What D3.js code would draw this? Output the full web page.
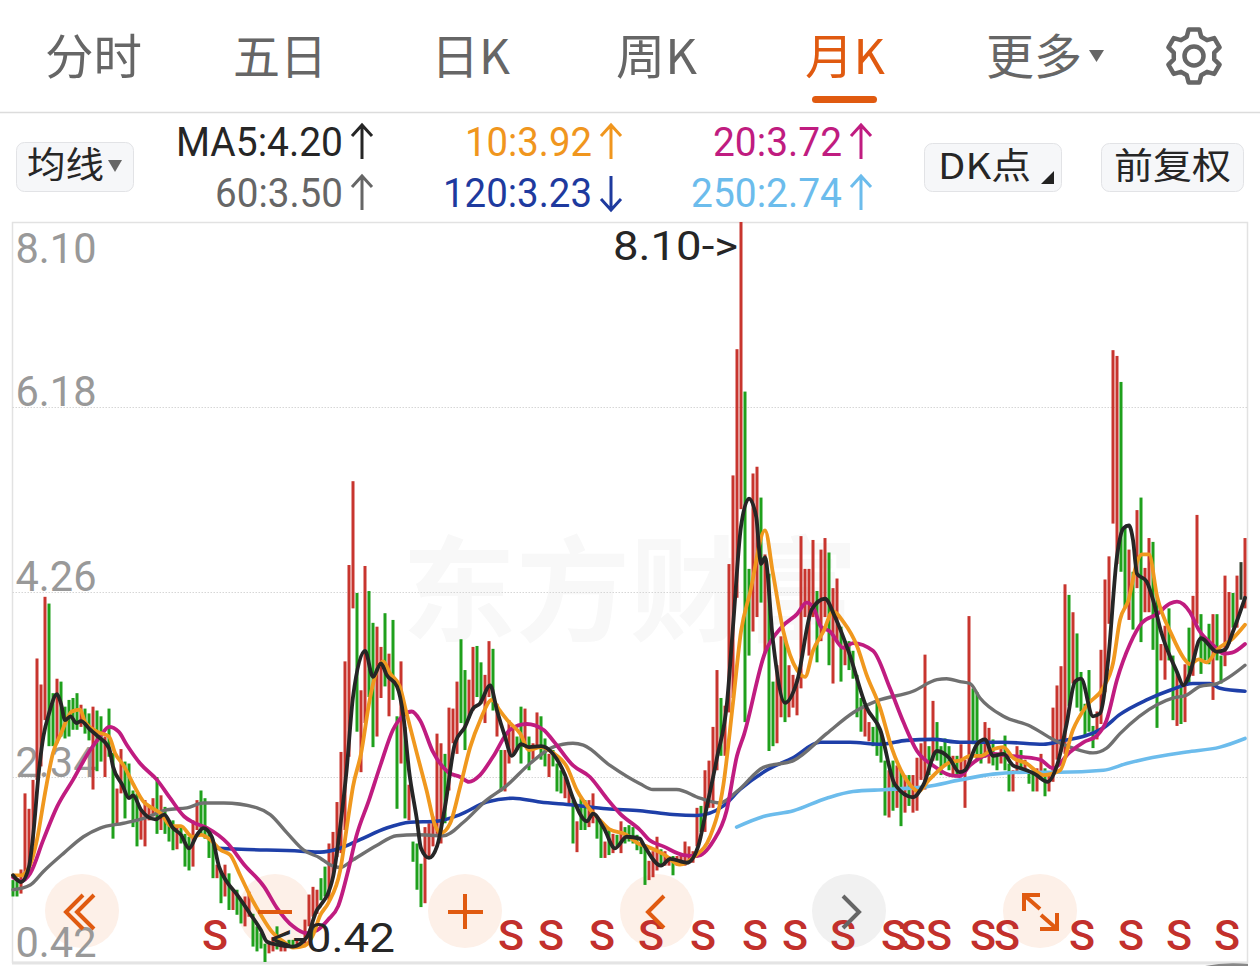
<!DOCTYPE html>
<html><head><meta charset="utf-8"><style>html,body{margin:0;padding:0;background:#fff;overflow:hidden}svg{display:block}</style>
<script src="https://d3js.org/d3.v7.min.js"></script></head><body><div id="c"></div><script>
const tabs=["分时","五日","日K","周K","月K","更多"];
const yTicks=[8.10,6.18,4.26,2.34,0.42];
const highs=[1.27,1.29,1.38,2.17,2.01,2.31,3.57,3.30,4.21,4.14,
3.21,3.36,3.33,3.07,3.14,3.16,3.21,3.09,3.05,3.00,
3.07,3.03,2.97,2.76,3.05,2.59,2.22,2.63,2.50,2.48,
2.20,2.17,2.00,2.10,2.03,2.12,2.34,2.15,2.03,1.89,
1.89,1.82,1.84,1.75,1.72,1.89,2.10,2.20,2.12,1.79,
1.69,1.43,1.36,1.43,1.34,1.17,1.17,1.06,1.10,1.15,
.92,.79,.72,.61,.61,.68,.79,.61,.63,.65,
.65,.65,.66,.86,1.12,1.20,1.17,1.29,1.41,1.65,
1.77,2.08,2.60,3.54,4.54,5.41,4.25,3.24,4.53,4.27,
3.94,3.90,3.69,4.04,3.62,3.97,2.97,3.54,2.86,2.26,
1.67,1.65,1.44,1.82,1.86,1.93,2.79,2.69,2.58,3.06,
3.05,3.33,3.77,3.45,3.35,3.69,3.70,3.53,3.40,3.75,
3.67,3.10,2.62,2.62,2.93,2.86,2.76,3.07,3.05,2.76,
2.69,3.01,2.97,2.74,2.58,2.62,2.48,2.41,2.34,2.24,
2.10,1.88,2.12,2.10,2.10,2.17,1.93,1.86,1.67,1.79,
1.75,1.74,1.88,1.82,1.84,1.82,1.74,1.64,1.62,1.47,
1.57,1.72,1.59,1.57,1.52,1.52,1.52,1.52,1.67,1.62,
1.57,2.02,2.04,2.41,2.51,2.86,3.45,3.16,3.08,4.55,
5.47,6.78,8.10,6.34,4.50,5.49,5.56,5.24,4.65,4.45,
3.33,3.50,3.80,3.78,3.50,3.40,3.36,4.84,4.50,4.50,
4.80,4.27,4.70,4.82,4.67,4.30,4.40,3.90,3.75,3.75,
3.65,3.40,3.16,3.06,2.91,2.86,3.11,2.81,2.51,2.41,
2.51,2.46,2.41,2.36,2.36,2.36,2.54,2.69,3.61,2.66,
3.13,2.91,2.66,2.74,2.66,2.56,2.56,2.68,2.52,4.01,
3.26,3.22,2.73,2.91,2.85,2.73,2.56,2.66,2.77,2.48,
2.41,2.66,2.62,2.52,2.41,2.41,2.43,2.58,2.43,2.37,
3.06,3.29,3.49,4.34,4.23,4.05,3.83,3.43,3.10,3.45,
2.87,3.02,3.66,4.39,4.63,6.77,6.71,6.44,4.93,4.70,
4.47,5.11,5.24,4.51,4.82,4.78,4.22,3.72,3.91,4.09,
3.60,3.43,3.31,3.51,3.89,4.22,5.06,4.03,3.76,3.93,
4.03,4.03,3.60,4.43,4.26,4.25,4.43,4.57,4.82];
const lows=[1.10,1.10,1.13,1.27,1.34,1.65,2.31,2.45,2.93,2.66,
2.66,2.69,2.76,2.74,2.76,2.83,2.83,2.86,2.79,2.72,
2.21,2.40,2.50,2.34,2.55,1.70,1.86,2.17,1.91,2.14,
1.82,1.62,1.69,1.62,1.89,1.93,1.75,1.79,1.75,1.67,
1.58,1.59,1.65,1.41,1.37,1.41,1.79,1.75,1.70,1.50,
1.29,1.29,1.03,1.10,.96,.96,.91,.82,.79,.89,
.58,.53,.56,.42,.51,.53,.55,.53,.53,.58,
.58,.58,.58,.61,.79,.89,.92,1.06,1.10,1.06,
1.30,1.51,1.55,1.79,2.55,4.09,2.81,2.39,2.90,3.17,
2.65,2.76,3.16,3.28,2.97,3.14,2.01,2.48,1.91,1.89,
1.46,1.17,.99,1.03,1.51,1.62,1.75,1.65,1.86,2.20,
2.69,2.58,2.90,2.62,2.95,3.03,3.17,3.10,2.90,3.17,
3.03,2.76,2.19,2.19,2.48,2.58,2.62,2.48,2.65,2.41,
2.52,2.65,2.52,2.45,2.34,2.45,2.19,2.17,2.12,2.07,
1.65,1.56,1.79,1.79,1.82,1.86,1.70,1.50,1.50,1.53,
1.55,1.62,1.55,1.65,1.67,1.65,1.58,1.54,1.22,1.27,
1.30,1.37,1.42,1.42,1.42,1.32,1.42,1.42,1.42,1.45,
1.45,1.62,1.77,1.77,2.02,2.02,2.41,2.56,2.56,3.01,
3.16,4.20,5.12,2.91,3.60,3.85,4.00,4.15,3.63,2.61,
2.66,2.69,2.96,2.91,2.96,3.06,2.98,3.26,4.00,3.60,
4.00,3.53,3.75,4.00,3.50,3.31,3.75,3.33,3.50,3.45,
3.36,2.96,2.81,2.76,2.71,2.66,2.56,2.49,1.94,1.92,
1.99,2.02,1.83,1.97,2.04,1.97,1.99,2.31,2.21,2.36,
2.51,2.51,2.36,2.46,2.41,2.34,2.34,2.35,2.02,2.48,
2.68,2.52,2.48,2.54,2.48,2.46,2.41,2.48,2.41,2.19,
2.19,2.39,2.41,2.39,2.27,2.19,2.19,2.31,2.14,2.19,
2.29,2.52,2.60,2.58,3.08,3.31,3.06,3.02,2.77,2.81,
2.64,2.73,2.89,3.22,3.93,4.97,4.55,4.47,4.09,3.97,
3.87,4.30,3.74,4.05,4.05,3.66,2.85,3.55,3.35,3.55,
2.93,2.87,2.89,2.91,3.31,3.39,3.93,3.41,3.55,3.51,
3.14,3.55,3.31,3.49,3.72,3.89,3.89,4.18,4.09];
const directions=("ggrrrrrrrg"+"grgggggrgg"+"rggrggrrgg"+"ggrrrrgrgg"+"grgggrrggg"+"grgrgrggrr"+"ggggrrgrrg"+"grgrrrrggr"+"rrrrrrgrrg"+"grrgrggrgr"+"gggrrrrrgr"+"rrggrrggrr"+"grgrrrggrg"+"rrggrgggrr"+"grggrrggrg"+"rgrggggggr"+"rrgrrgrrrr"+"rrgrrrrgrr"+"rrrggrrgrg"+"grrgrrrrrr"+"rgrrgrrgrg"+"gggrrggggr"+"grgrgrrrrg"+"rggggrgrrr"+"gggrrggrgg"+"rrgrggrrgr"+"rrrrgrgggg"+"grrrrrrggr"+"grgrrggrrg"+"grgrgrrggg"+"rggrrgrkr").split("");
const ma5=[[0,1.32],[2,1.25],[4,1.41],[5,1.72],[6.5,2.41],[7.6,2.76],[9,3.00],[11,3.20],[12,3.10],[13,2.93],[14.4,2.97],[15.8,2.90],[17,2.92],[19.3,2.83],[21.3,2.76],[24,2.64],[25,2.45],[27.3,2.26],[29,2.12],[30,2.15],[32,2.00],[33.6,1.93],[35.6,1.90],[37.8,1.95],[40,1.81],[42,1.74],[44,1.60],[46,1.74],[47.6,1.81],[49.7,1.72],[51.5,1.41],[53.5,1.25],[56,1.12],[59.3,.92],[62,.75],[63.5,.63],[66,.60],[70,.58],[73.5,.68],[76,.96],[76.75,1.0],[80,1.30],[82,1.89],[83.4,2.41],[85,3.17],[88,3.65],[90,3.38],[92,3.52],[93.4,3.40],[96,3.28],[97.6,2.97],[99,2.41],[101,1.89],[102,1.60],[104,1.50],[106,1.62],[108,2.03],[110.5,2.69],[113,2.86],[115,3.05],[116.7,3.10],[119.3,3.29],[121,3.03],[123,2.76],[124.7,2.56],[127,2.68],[129,2.65],[132,2.66],[135,2.58],[138,2.36],[140,2.12],[143.5,1.88],[145,1.96],[147.7,1.81],[150.5,1.60],[153.4,1.72],[156.7,1.70],[157.6,1.64],[162,1.42],[164.3,1.49],[168.5,1.45],[171.3,1.62],[173.4,2.02],[176,2.54],[178.5,3.11],[180,3.90],[182,4.94],[184,5.23],[185.8,5.04],[187,4.55],[188,4.62],[190,3.75],[193,3.11],[196,3.33],[199.7,4.08],[203,4.19],[205.5,4.00],[209,3.63],[213.4,3.06],[216.8,2.83],[220.5,2.26],[225,2.13],[227.6,2.26],[231,2.61],[234,2.54],[236.6,2.39],[238,2.41],[241,2.68],[243,2.73],[245,2.56],[247.6,2.58],[250,2.46],[252,2.43],[255.5,2.37],[258.6,2.29],[261,2.46],[263.4,2.89],[265.5,3.33],[267,3.36],[270,2.97],[271.75,3.00],[273.8,3.56],[276,4.63],[277.6,4.92],[279,4.95],[280,4.80],[281,4.45],[283.4,4.37],[285,4.18],[287,3.85],[291,3.43],[292.6,3.29],[294,3.39],[297,3.78],[301,3.64],[303,3.66],[305,3.85],[308,4.20]];
const ma10=[[0,1.32],[2,1.32],[4.3,1.43],[6,1.69],[8,2.17],[10,2.59],[12,2.79],[14.7,3.02],[16.8,3.04],[18,2.91],[21,2.81],[24,2.76],[25.5,2.59],[27.8,2.45],[30,2.27],[32.7,2.08],[34.3,2.03],[37,1.96],[39.5,1.83],[42,1.83],[44.8,1.72],[47,1.74],[49.3,1.69],[52,1.58],[54.3,1.53],[56.8,1.32],[59,1.13],[61.8,.92],[65,.72],[67.7,.63],[70,.57],[73,.59],[75,.70],[76.75,.90],[78.8,1.03],[81.8,1.37],[83.7,1.89],[85,2.24],[87,2.58],[89.3,3.17],[91.3,3.48],[92.6,3.54],[94.2,3.42],[96.7,3.28],[98.4,3.0],[101,2.58],[103.4,2.20],[105.5,1.84],[107,1.76],[109.3,1.86],[111.8,2.24],[114.3,2.65],[116.8,2.93],[119.7,3.14],[121.7,3.03],[124,2.91],[126.8,2.79],[129,2.62],[132,2.65],[135,2.59],[138.4,2.45],[141,2.20],[144.3,2.0],[146.8,1.89],[149,1.80],[153.4,1.74],[156.3,1.65],[158.4,1.62],[162.6,1.54],[166.75,1.43],[170.5,1.52],[174.25,1.72],[177.6,2.26],[180,3.11],[182,3.85],[184.25,4.25],[188,4.90],[190,4.45],[192.6,3.85],[196,3.45],[198,3.38],[200,3.65],[202.6,3.85],[205,4.06],[207.6,3.95],[211,3.70],[213.4,3.40],[216.75,3.06],[219.7,2.64],[224.25,2.26],[226.3,2.19],[229,2.31],[234.7,2.50],[236.75,2.51],[239.25,2.56],[242,2.56],[244.6,2.62],[247.6,2.65],[250,2.54],[253.4,2.48],[257.6,2.36],[261.75,2.41],[265,2.83],[268.4,3.08],[272.6,3.27],[275,3.52],[276.75,3.97],[278.9,4.18],[281,4.57],[282.25,4.65],[284,4.65],[286,4.22],[289.75,3.81],[292.6,3.58],[294.25,3.51],[296.4,3.56],[298.4,3.53],[301,3.66],[305,3.78],[308,3.92]];
const ma20=[[0,1.30],[2,1.26],[4.3,1.34],[7.6,1.69],[11,2.03],[15,2.31],[19.3,2.62],[21.8,2.76],[24,2.86],[26.4,2.81],[28.5,2.67],[31.8,2.48],[36,2.31],[39.3,2.12],[42.8,1.93],[45,1.87],[48.6,1.81],[53.7,1.65],[57.8,1.43],[62.8,1.20],[66,.98],[70,.79],[73.2,.72],[76,.75],[78.8,.86],[81.3,1.0],[83.8,1.37],[85.8,1.72],[89,2.10],[92,2.48],[95,2.83],[97.6,2.98],[99.7,3.02],[101.75,2.93],[105,2.60],[108.8,2.39],[111.8,2.34],[114,2.29],[116.75,2.36],[120,2.55],[124.25,2.83],[128.4,2.89],[132.6,2.83],[135,2.72],[140,2.46],[144.25,2.34],[148.4,2.12],[151.75,1.96],[156.75,1.79],[159.25,1.68],[162.6,1.62],[167.6,1.53],[171,1.52],[175,1.67],[178.4,1.99],[181,2.56],[182.75,2.78],[188,3.63],[192.25,3.90],[196,4.03],[198.4,4.15],[200.1,4.10],[202,3.90],[204.25,3.85],[207.6,3.68],[210,3.73],[215,3.65],[219.25,3.26],[222.6,2.91],[226,2.61],[230,2.46],[234.25,2.36],[236.75,2.35],[239.25,2.46],[245,2.58],[249.25,2.56],[256.75,2.52],[260,2.43],[264.25,2.60],[267.6,2.70],[271,2.77],[273.4,2.93],[276,3.35],[279.25,3.72],[282.25,3.94],[286,4.03],[289.25,4.14],[291,4.16],[294.25,4.05],[296.4,3.87],[300.25,3.70],[302.75,3.62],[304.75,3.63],[308,3.72]];
const ma60=[[0,1.17],[4.3,1.22],[7.6,1.36],[12.7,1.55],[17.6,1.72],[21.8,1.81],[27.6,1.86],[32.7,1.91],[38.5,2.0],[43.5,2.02],[47.6,2.07],[52.7,2.07],[61,2.02],[64.3,1.95],[68.5,1.76],[72.7,1.58],[76.75,1.50],[79.25,1.43],[81.75,1.40],[85,1.48],[90.9,1.63],[95.9,1.73],[100.9,1.74],[107.6,1.73],[112.6,1.87],[118.4,2.10],[123.4,2.25],[129.25,2.48],[135,2.65],[140,2.69],[142.6,2.67],[149.25,2.46],[156.75,2.27],[160,2.21],[165.9,2.21],[171.75,2.12],[176.75,2.07],[181,2.19],[187.6,2.44],[195.1,2.51],[203.4,2.79],[210.1,3.01],[216,3.13],[225,3.23],[231,3.35],[233.4,3.36],[236.75,3.33],[239.25,3.31],[241.75,3.16],[247.6,2.97],[254.25,2.87],[260,2.73],[265,2.64],[270,2.59],[273.4,2.64],[276.75,2.79],[286,3.09],[290.1,3.16],[293.4,3.19],[296.75,3.28],[301,3.31],[308,3.50]];
const ma120=[[51,1.60],[57,1.59],[72,1.57],[76.75,1.56],[81.75,1.60],[86.75,1.69],[93.4,1.81],[99.25,1.87],[105.9,1.88],[111.75,1.95],[118.4,2.08],[125,2.12],[131.75,2.08],[140,2.05],[148.4,2.01],[156.75,1.99],[165,1.95],[170.9,1.94],[177.6,2.04],[181.75,2.21],[188.4,2.41],[195,2.54],[201.75,2.70],[209.25,2.70],[216.75,2.68],[223.4,2.72],[230,2.73],[236.75,2.70],[247.6,2.70],[257.6,2.68],[261.75,2.71],[272.6,2.85],[276.75,2.99],[283.4,3.14],[289.25,3.24],[295,3.31],[299.25,3.31],[301.75,3.26],[308,3.23]];
const ma250=[[180.9,1.82],[187.6,1.93],[195.1,1.99],[203.4,2.12],[210,2.19],[218.4,2.21],[228.4,2.24],[236.75,2.31],[245,2.37],[253.4,2.39],[261.75,2.39],[272.6,2.41],[278.4,2.48],[283.4,2.53],[293.4,2.60],[301.75,2.65],[308,2.74]];
const sSignals=[50.5,124.5,134.5,147.25,159.5,172.5,185.5,195.5,207.5,220.25,225,231.5,242.5,248.5,267.25,279.5,291.5,303.5];
const legendItems=[["MA5:4.20","#262626","up",177,343,142],["60:3.50","#666","up",216,343,193],["10:3.92","#f0961e","up",466,592,142],["120:3.23","#1e3a9e","down",444,592,193],["20:3.72","#c01c80","up",714,842,142],["250:2.74","#6cbcec","up",692,842,193]];

const W=1260,H=966,CJK='"Noto Sans CJK SC"',NUM='Roboto,"Noto Sans"';
const svg=d3.select("#c").append("svg").attr("width",W).attr("height",H).attr("viewBox",`0 0 ${W} ${H}`);
const x=d3.scaleLinear().domain([0,308]).range([13,1245]);
const y=d3.scaleLinear().domain([0.42,8.10]).range([962,222]);
const orange="#e05a10",gray="#666";

// tabs
const tabX=[[45,97],[233,94],[431,79],[616,81],[805,80],[986,96]];
tabs.forEach((t,i)=>{svg.append("text").attr("x",tabX[i][0]).attr("y",74).text(t)
 .attr("font-family",CJK).attr("font-size",48).attr("fill",i===4?orange:gray)
 .attr("textLength",tabX[i][1]).attr("lengthAdjust","spacingAndGlyphs");});
svg.append("path").attr("d","M1089,50h15l-7.5,12z").attr("fill",gray);
svg.append("rect").attr("x",812).attr("y",96).attr("width",65).attr("height",7).attr("rx",3.5).attr("fill",orange);
svg.append("line").attr("x1",0).attr("x2",W).attr("y1",112.5).attr("y2",112.5).attr("stroke","#dcdcdc").attr("stroke-width",1.5);
// gear
svg.append("path").attr("transform","translate(1194,56)").attr("d",d3.lineRadial().curve(d3.curveLinearClosed)(d3.range(6).flatMap(k=>{const a=k*Math.PI/3;return [[a-.36,20.5],[a-.2,27],[a+.2,27],[a+.36,20.5]];})))
 .attr("fill","none").attr("stroke",gray).attr("stroke-width",4.5).attr("stroke-linejoin","round");
svg.append("circle").attr("cx",1194).attr("cy",56).attr("r",9.5).attr("fill","none").attr("stroke",gray).attr("stroke-width",4.5);

// buttons
[[16,142,117,49],[924,143,137,48],[1101,143,142,48]].forEach(b=>svg.append("rect").attr("x",b[0]+.5).attr("y",b[1]+.5).attr("width",b[2]).attr("height",b[3]).attr("rx",8).attr("fill","#f6f7f9").attr("stroke","#e2e3e6"));
[["均线",27,77,178],["DK点",938,93,179],["前复权",1114,117,179]].forEach(b=>svg.append("text").attr("x",b[1]).attr("y",b[3]).text(b[0]).attr("font-family",CJK).attr("font-size",36).attr("fill","#262626").attr("textLength",b[2]).attr("lengthAdjust","spacingAndGlyphs"));
svg.append("path").attr("d","M108,160h14l-7,12z").attr("fill",gray);
svg.append("path").attr("d","M1054,171v13h-13z").attr("fill","#222");

// legend
legendItems.forEach(d=>{svg.append("text").attr("x",d[3]-1).attr("y",d[5]+14).text(d[0]).attr("font-family",NUM).attr("font-size",41).attr("fill",d[1]).attr("textLength",d[4]-d[3]+1).attr("lengthAdjust","spacingAndGlyphs");
 const ax=d[4]+19,t=d[5]-17,b=d[5]+17;
 svg.append("path").attr("d",d[2]==="up"?`M${ax},${b}V${t}M${ax-10},${t+11}L${ax},${t}L${ax+10},${t+11}`:`M${ax},${t}V${b}M${ax-10},${b-11}L${ax},${b}L${ax+10},${b-11}`).attr("fill","none").attr("stroke",d[1]).attr("stroke-width",3);});

// frame
svg.append("rect").attr("x",12.5).attr("y",222.5).attr("width",1235).attr("height",740).attr("fill","#fff").attr("stroke","#e2e2e2").attr("stroke-width",1.5);
svg.append("line").attr("x1",12).attr("x2",1248).attr("y1",963).attr("y2",963).attr("stroke","#e4e4e4").attr("stroke-width",3);
svg.append("path").attr("d","M1205,966Q1225,962 1248,964V966Z").attr("fill","#888");
svg.append("text").attr("x",630).attr("y",632).attr("text-anchor","middle").text("东方财富").attr("font-family",CJK).attr("font-weight",700).attr("font-size",114).attr("fill","#f8f8f8");

// round overlay buttons
const circles=[[82,"#fdf0e8"],[275,"#fdf0e8"],[465,"#fdf0e8"],[657,"#fdf0e8"],[849,"#f1f1f1"],[1040,"#fdf0e8"]];
circles.forEach(c=>svg.append("circle").attr("cx",c[0]).attr("cy",911).attr("r",37).attr("fill",c[1]));

// y axis with gridlines
const axis=d3.axisRight(y).tickValues(yTicks).tickFormat(d3.format(".2f")).tickSize(1235);
const ag=svg.append("g").attr("transform","translate(12.5,0)").call(axis);
ag.select(".domain").remove();
ag.selectAll("line").attr("stroke","#d6d6d6").attr("stroke-dasharray","1.5 1.5").filter(d=>d===8.10||d===0.42).remove();
const labelDy={8.1:25,6.18:-17,4.26:-17,2.34:-16,0.42:-21};
ag.selectAll("text").attr("x",3).attr("dy",null).attr("y",d=>labelDy[d]+15).attr("font-family",NUM).attr("font-size",42).attr("fill","#999").attr("textLength",81).attr("lengthAdjust","spacingAndGlyphs");

// candles
const colorOf={r:"#c8352e",g:"#1fa01c",k:"#33402f"};
svg.append("g").selectAll("rect").data(highs).join("rect")
 .attr("x",(d,i)=>x(i)-1.5).attr("width",3).attr("y",d=>y(d)).attr("height",(d,i)=>Math.max(2,y(lows[i])-y(d))).attr("fill",(d,i)=>colorOf[directions[i]]);

// moving averages
const line=d3.line().x(d=>x(d[0])).y(d=>y(d[1])).curve(d3.curveMonotoneX);
[[ma250,"#6cbcec",3.6],[ma120,"#1e3fa8",3.6],[ma60,"#707070",3.4],[ma20,"#c01c80",3.8],[ma10,"#f0981e",3.8],[ma5,"#262626",3.8]].forEach(s=>svg.append("path").attr("d",line(s[0])).attr("fill","none").attr("stroke",s[1]).attr("stroke-width",s[2]).attr("stroke-linejoin","round").attr("stroke-linecap","round"));

// high / low notes
svg.append("text").attr("x",613).attr("y",260).text("8.10->").attr("font-family",NUM).attr("font-size",41).attr("fill","#262626").attr("textLength",125).attr("lengthAdjust","spacingAndGlyphs");
svg.append("text").attr("x",270).attr("y",952).text("<-0.42").attr("font-family",NUM).attr("font-size",41).attr("fill","#262626").attr("textLength",125).attr("lengthAdjust","spacingAndGlyphs");

// S markers
svg.append("g").selectAll("text").data(sSignals).join("text").attr("x",d=>x(d)).attr("y",950).attr("text-anchor","middle").text("S").attr("font-family",NUM).attr("font-weight",500).attr("font-size",43).attr("fill","#c2302c");

// button icons
const ic=(d,c)=>svg.append("path").attr("d",d).attr("fill","none").attr("stroke",c).attr("stroke-width",4);
ic("M83,895L66,912L83,929M94,895L77,912L94,929",orange);
ic("M258,912H292",orange);
ic("M448,912H483M465,894V929",orange);
ic("M664,896L648,912L664,928",orange);
ic("M843,896L859,912L843,928",gray);
ic("M1024,911V895H1040M1024,895L1040,909M1057,913V929H1040M1057,929L1041,915",orange);
</script></body></html>
